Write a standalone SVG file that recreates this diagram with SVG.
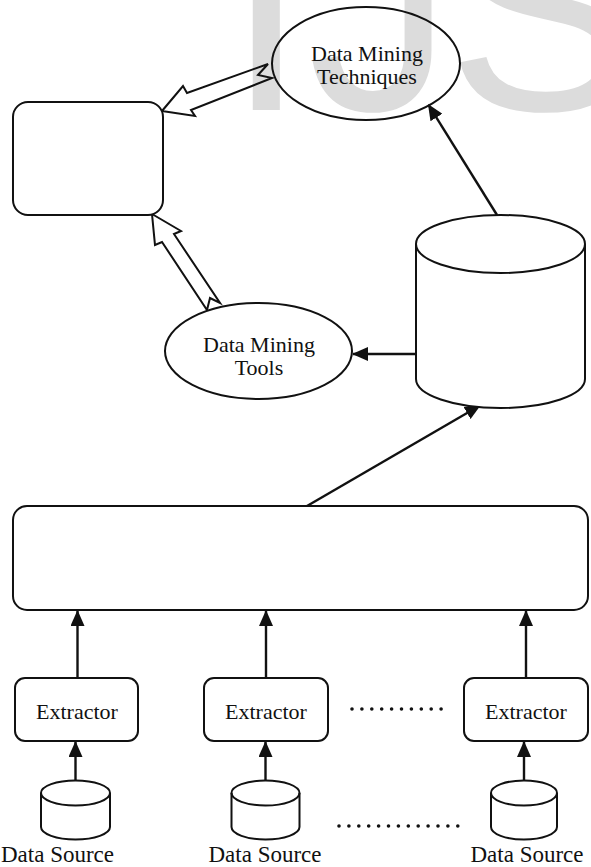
<svg xmlns="http://www.w3.org/2000/svg" width="591" height="867" viewBox="0 0 591 867">
  <style>
    .wm { font-family: "Liberation Sans", Arial, sans-serif; font-size: 290px; fill: #dcdcdc; }
    .shape { fill: none; stroke: #111; stroke-width: 2; }
    .box { fill: #fff; stroke: #111; stroke-width: 2; }
    .hollow { fill: none; stroke: #111; stroke-width: 2; stroke-linejoin: miter; }
    .conn { fill: none; stroke: #111; stroke-width: 2.4; }
    .label { font-family: "Liberation Serif", "Times New Roman", serif; font-size: 22px; fill: #111; text-anchor: middle; }
    .src { font-size: 23px; }
    .dots { fill: none; stroke: #111; stroke-width: 3.6; stroke-linecap: round; stroke-dasharray: 0 9.9; }
  </style>
  <defs>
    <marker id="head" viewBox="0 0 16 14" refX="15" refY="7" markerWidth="16" markerHeight="14" markerUnits="userSpaceOnUse" orient="auto">
      <path d="M0,0 L16,7 L0,14 z" fill="#111"/>
    </marker>
  </defs>

  <rect width="591" height="867" fill="#fff"/>

  <!-- background watermark -->
  <g id="watermark">
    <text class="wm" x="226" y="110">I</text>
    <text class="wm" x="308" y="110">J</text>
    <text class="wm" x="447" y="110">S</text>
  </g>

  <!-- connectors -->
  <g id="connectors">
    <!-- hollow block arrows -->
    <polygon class="hollow" points="162,111 183,86 187,93 268,64 258,75 272,78 191,110 195,116"/>
    <polygon class="hollow" points="152,214 181,231 174,234 220,303 210,298 207,310 162,242 155,245"/>
    <!-- solid arrows -->
    <line class="conn" x1="497" y1="215" x2="428.5" y2="104.8" marker-end="url(#head)"/>
    <line class="conn" x1="416" y1="354" x2="353" y2="354" marker-end="url(#head)"/>
    <line class="conn" x1="307" y1="506" x2="480" y2="405.5" marker-end="url(#head)"/>
    <line class="conn" x1="77.5" y1="678" x2="77.5" y2="611" marker-end="url(#head)"/>
    <line class="conn" x1="266" y1="678" x2="266" y2="611" marker-end="url(#head)"/>
    <line class="conn" x1="526" y1="678" x2="526" y2="611" marker-end="url(#head)"/>
    <line class="conn" x1="75.5" y1="781" x2="75.5" y2="742" marker-end="url(#head)"/>
    <line class="conn" x1="265.5" y1="781" x2="265.5" y2="742" marker-end="url(#head)"/>
    <line class="conn" x1="524" y1="781" x2="524" y2="742" marker-end="url(#head)"/>
    <!-- continuation dots -->
    <line class="dots" x1="352" y1="709" x2="442" y2="709"/>
    <line class="dots" x1="339" y1="826" x2="459" y2="826"/>
  </g>

  <g id="techniques">
    <ellipse class="shape" cx="366" cy="63.5" rx="94" ry="56.5"/>
    <text class="label" x="367" y="61">Data Mining</text>
    <text class="label" x="367" y="84">Techniques</text>
  </g>

  <g id="result-box">
    <rect class="box" x="13" y="102" width="150" height="113" rx="15"/>
  </g>

  <g id="tools">
    <ellipse class="box" cx="258.5" cy="351" rx="93.5" ry="48"/>
    <text class="label" x="259" y="352">Data Mining</text>
    <text class="label" x="259" y="375">Tools</text>
  </g>

  <g id="warehouse">
    <path class="box" d="M416,244 A84.5,29 0 0 1 585,244 L585,379 A84.5,29 0 0 1 416,379 Z"/>
    <path class="shape" d="M416,244 A84.5,29 0 0 0 585,244"/>
  </g>

  <g id="integration-box">
    <rect class="box" x="13" y="506" width="575" height="104" rx="14"/>
  </g>

  <g id="extractor-1">
    <rect class="box" x="15" y="678" width="123" height="63" rx="10"/>
    <text class="label" x="77" y="719">Extractor</text>
  </g>
  <g id="extractor-2">
    <rect class="box" x="204" y="678" width="124" height="63" rx="10"/>
    <text class="label" x="266" y="719">Extractor</text>
  </g>
  <g id="extractor-3">
    <rect class="box" x="464" y="678" width="124" height="63" rx="10"/>
    <text class="label" x="526" y="719">Extractor</text>
  </g>

  <g id="source-1">
    <path class="box" d="M41,793 A34.5,12.5 0 0 1 110,793 L110,827 A34.5,12.5 0 0 1 41,827 Z"/>
    <path class="shape" d="M41,793 A34.5,12.5 0 0 0 110,793"/>
    <text class="label src" x="1" y="862" style="text-anchor:start">Data Source</text>
  </g>
  <g id="source-2">
    <path class="box" d="M231.5,793 A34,12.5 0 0 1 299.5,793 L299.5,827 A34,12.5 0 0 1 231.5,827 Z"/>
    <path class="shape" d="M231.5,793 A34,12.5 0 0 0 299.5,793"/>
    <text class="label src" x="265" y="862">Data Source</text>
  </g>
  <g id="source-3">
    <path class="box" d="M491,793 A33,12.5 0 0 1 557,793 L557,827 A33,12.5 0 0 1 491,827 Z"/>
    <path class="shape" d="M491,793 A33,12.5 0 0 0 557,793"/>
    <text class="label src" x="527" y="862">Data Source</text>
  </g>
</svg>
